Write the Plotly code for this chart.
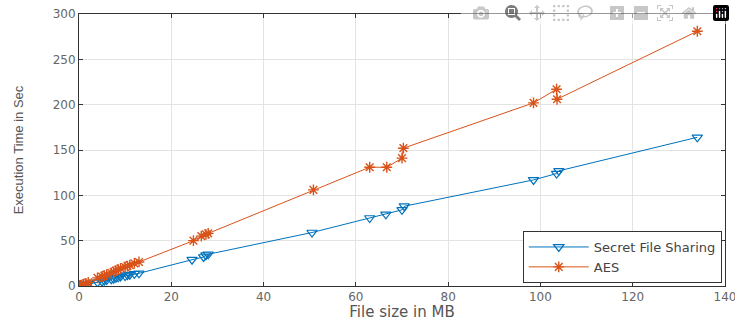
import plotly.graph_objects as go

sfs_x = [0.1, 0.3, 0.5, 1, 1.5, 2, 4, 5, 5.5, 6, 7, 7.5, 8, 8.5, 9, 10, 10.5, 11, 12, 13,
         24.5, 27, 27.5, 28, 50.5, 63, 66.5, 70, 70.5, 98.5, 103.5, 104, 134]
sfs_y = [0.2, 0.5, 0.8, 1.2, 1.8, 2.5, 4, 5, 6, 6.5, 7.5, 8, 9, 9.5, 10.5, 11, 12, 12.5, 13.5, 14,
         29, 32, 34, 35, 59, 75, 79, 84, 88, 117, 124, 127, 164]

aes_x = [0.1, 0.3, 0.5, 1, 1.5, 2, 4, 5, 5.5, 6, 7, 7.5, 8, 8.5, 9, 10, 10.5, 11, 12, 13,
         24.8, 26.5, 27.5, 28, 50.8, 63, 66.7, 70, 70.3, 98.5, 103.5, 103.6, 134]
aes_y = [0.3, 0.7, 1, 2, 3, 4, 9, 10.5, 11.5, 12.5, 14.5, 15.5, 17, 18, 19.5, 21, 22, 23, 25, 26.5,
         50, 55, 57, 58, 106, 131, 131, 141, 152, 202, 217, 206, 281]

x_ticks = [0, 20, 40, 60, 80, 100, 120, 140]
y_ticks = [0, 50, 100, 150, 200, 250, 300]

blue = "#0072BD"
orange = "#D95319"

fig = go.Figure()
fig.add_trace(go.Scatter(
    x=sfs_x, y=sfs_y, mode="lines+markers", name="Secret File Sharing",
    line=dict(color=blue, width=1),
    marker=dict(symbol="triangle-down-open", size=9, color=blue, line=dict(width=1.2, color=blue)),
))
fig.add_trace(go.Scatter(
    x=aes_x, y=aes_y, mode="lines+markers", name="AES",
    line=dict(color=orange, width=1),
    marker=dict(symbol="asterisk-open", size=9, color=orange, line=dict(width=1.4, color=orange)),
))

tick_font = dict(family="DejaVu Sans, sans-serif", size=12, color="#666666")

axis_common = dict(
    showgrid=True, gridcolor="#e3e3e3", gridwidth=1,
    showline=True, linecolor="#333333", linewidth=1, mirror="ticks",
    ticks="inside", ticklen=4, tickcolor="#333333",
    zeroline=False, automargin=False, ticklabeloverflow="allow",
    tickfont=tick_font,
)

fig.update_layout(
    width=735, height=321,
    margin=dict(l=79, r=10, t=14, b=35),
    paper_bgcolor="white", plot_bgcolor="white",
    xaxis=dict(range=[0, 140], tickvals=x_ticks,
               title=dict(text="File size in MB", standoff=0,
                          font=dict(family="DejaVu Sans, sans-serif", size=15, color="#555555")),
               **axis_common),
    yaxis=dict(range=[0, 300], tickvals=y_ticks,
               title=dict(text="Execution Time in Sec", standoff=26,
                          font=dict(family="Liberation Sans Narrow, Liberation Sans, Arial, sans-serif",
                                    size=13, color="#555555")),
               **axis_common),
    legend=dict(x=0.995, y=0.011, xanchor="right", yanchor="bottom",
                bordercolor="#333333", borderwidth=1, bgcolor="white",
                font=dict(family="DejaVu Sans, sans-serif", size=13, color="#444444"),
                tracegroupgap=0, itemwidth=60),
    showlegend=True,
)

# remove the page's default body margin so the 735x321 figure fills the window exactly
fig.write_html(
    "out.html",
    post_script="document.body.style.margin='0';document.body.style.overflow='hidden';",
)
